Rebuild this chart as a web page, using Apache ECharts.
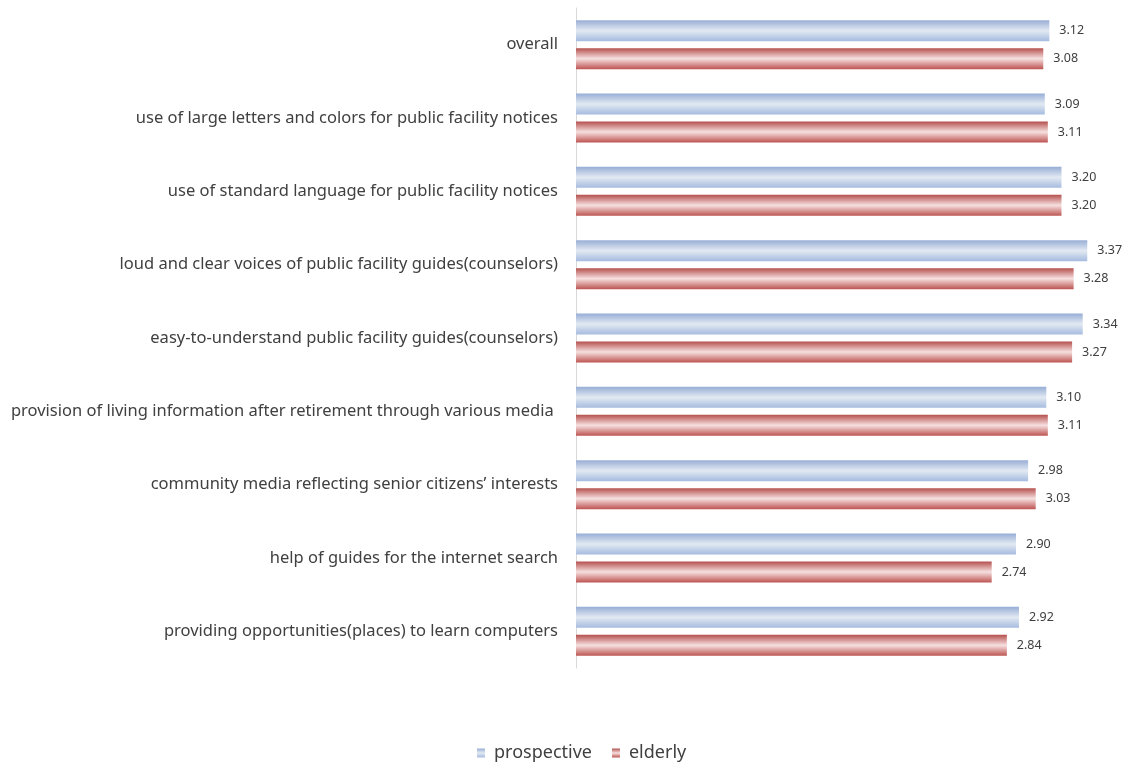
<!DOCTYPE html>
<html>
<head>
<meta charset="utf-8">
<script src="https://cdn.jsdelivr.net/npm/echarts@6/dist/echarts.min.js"></script>
<style>
  html, body { margin: 0; padding: 0; background: #fff; }
  #chart { width: 1127px; height: 764px; }
</style>
</head>
<body>
<div id="chart"></div>
<script>
// Survey items (top to bottom)
const categories = [
  'overall',
  'use of large letters and colors for public facility notices',
  'use of standard language for public facility notices',
  'loud and clear voices of public facility guides(counselors)',
  'easy-to-understand public facility guides(counselors)',
  'provision of living information after retirement through various media ',
  'community media reflecting senior citizens\u2019 interests',
  'help of guides for the internet search',
  'providing opportunities(places) to learn computers'
];
const prospective = [3.12, 3.09, 3.20, 3.37, 3.34, 3.10, 2.98, 2.90, 2.92];
const elderly     = [3.08, 3.11, 3.20, 3.28, 3.27, 3.11, 3.03, 2.74, 2.84];
const seriesNames = ['prospective', 'elderly'];

// Cylinder-like vertical shading for each bar
function tube(edgeTop, mid, edgeBottom) {
  return new echarts.graphic.LinearGradient(0, 0, 0, 1, [
    { offset: 0, color: edgeTop },
    { offset: 0.5, color: mid },
    { offset: 1, color: edgeBottom }
  ]);
}
const blueFill = tube('#98aed6', '#e2e9f2', '#a5bbdf');
const redFill  = tube('#b5504d', '#f6e0e0', '#bd5552');

const chart = echarts.init(document.getElementById('chart'), null, { renderer: 'canvas' });
const font = 'Noto Sans, Open Sans, sans-serif';

const valueLabel = {
  show: true, position: 'right', distance: 10,
  fontFamily: font, fontSize: 12.5, color: '#404040',
  formatter: p => p.value.toFixed(2)
};

chart.setOption({
  animation: false,
  backgroundColor: '#ffffff',
  legend: {
    top: 744,
    left: 477,
    padding: 0,
    itemWidth: 8,
    itemHeight: 9,
    itemGap: 20,
    icon: 'rect',
    textStyle: { fontFamily: font, fontSize: 18, color: '#404040', padding: [0, 0, 0, 4] },
    data: seriesNames
  },
  grid: { left: 576, right: 20, top: 8, bottom: 96, containLabel: false },
  xAxis: {
    type: 'value',
    min: 0,
    max: 3.5,
    show: false
  },
  yAxis: {
    type: 'category',
    inverse: true,
    data: categories,
    axisLine: { show: true, lineStyle: { color: '#d9d9d9', width: 1 } },
    axisTick: { show: false },
    axisLabel: {
      margin: 18,
      fontFamily: font,
      fontSize: 16.5,
      color: '#404040'
    }
  },
  series: [
    {
      name: seriesNames[0],
      type: 'bar',
      data: prospective,
      barWidth: 21,
      barGap: '33%',
      itemStyle: { color: blueFill },
      label: valueLabel
    },
    {
      name: seriesNames[1],
      type: 'bar',
      data: elderly,
      barWidth: 21,
      itemStyle: { color: redFill },
      label: valueLabel
    }
  ]
});
</script>
</body>
</html>
